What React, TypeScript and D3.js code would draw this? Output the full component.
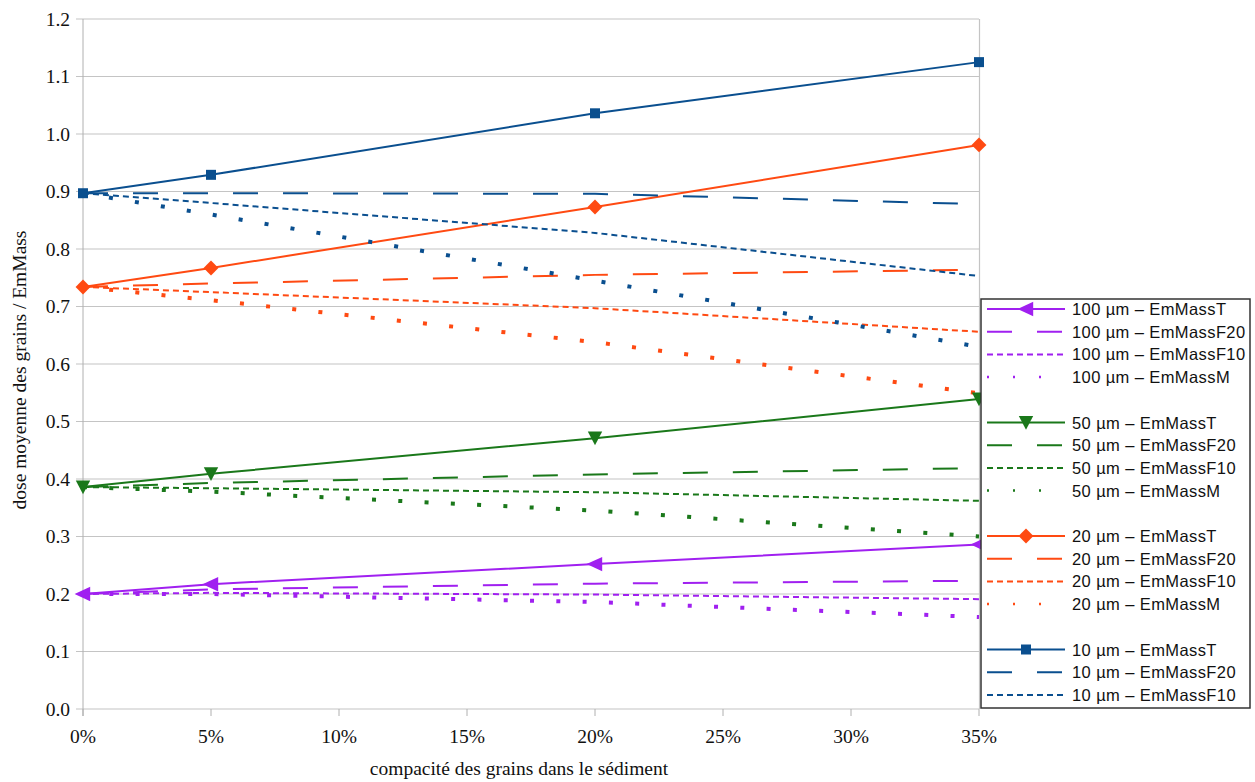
import React from "react";
import * as d3 from "d3";

// ---- data ----
const xValues = [0, 5, 20, 35];
const sizeLabels = ["100 µm", "50 µm", "20 µm", "10 µm"];
const variantLabels = ["EmMassT", "EmMassF20", "EmMassF10", "EmMassM"];
const yTicks = [0, 0.1, 0.2, 0.3, 0.4, 0.5, 0.6, 0.7, 0.8, 0.9, 1.0, 1.1, 1.2];
const xTicks = [0, 5, 10, 15, 20, 25, 30, 35];

const um100T = [0.2, 0.217, 0.252, 0.286];
const um100F20 = [0.2, 0.208, 0.218, 0.223];
const um100F10 = [0.2, 0.202, 0.199, 0.191];
const um100M = [0.2, 0.2, 0.186, 0.16];

const um50T = [0.386, 0.409, 0.471, 0.539];
const um50F20 = [0.386, 0.393, 0.408, 0.419];
const um50F10 = [0.386, 0.384, 0.377, 0.362];
const um50M = [0.386, 0.378, 0.345, 0.3];

const um20T = [0.734, 0.767, 0.873, 0.981];
const um20F20 = [0.734, 0.74, 0.755, 0.764];
const um20F10 = [0.734, 0.725, 0.697, 0.656];
const um20M = [0.734, 0.711, 0.638, 0.549];

const um10T = [0.897, 0.929, 1.036, 1.125];
const um10F20 = [0.897, 0.897, 0.896, 0.878];
const um10F10 = [0.897, 0.88, 0.828, 0.753];
const um10M = [0.897, 0.86, 0.745, 0.63];

const groups = [
  [um100T, um100F20, um100F10, um100M],
  [um50T, um50F20, um50F10, um50M],
  [um20T, um20F20, um20F10, um20M],
  [um10T, um10F20, um10F10, um10M],
];

// ---- styles ----
const colors = ["#a020f0", "#1a781a", "#ff4a12", "#0a4f8f"];
const markerShapes = ["left", "down", "diamond", "square"];
const markerSizes = [12, 12, 12, 10];
const dashes = [null, "25,25", "6,4", "4,22.3"];
const widths = [2, 2, 2, 4];
const legendDashes = [null, "25,25", "6,4", "2,24"];
const legendWidths = [2, 2, 2, 2.5];

const W = 1255;
const H = 782;
const x = d3.scaleLinear().domain([0, 35]).range([83, 979]);
const y = d3.scaleLinear().domain([0, 1.2]).range([709, 19]);

function markerPath(shape: string, s: number) {
  switch (shape) {
    case "left":
      return `M${-s * 0.7},0 L${s * 0.6},${-s * 0.6} L${s * 0.6},${s * 0.6} Z`;
    case "down":
      return `M${-s * 0.6},${-s * 0.55} L${s * 0.6},${-s * 0.55} L0,${s * 0.6} Z`;
    case "diamond":
      return `M0,${-s * 0.62} L${s * 0.62},0 L0,${s * 0.62} L${-s * 0.62},0 Z`;
    default:
      return `M${-s * 0.5},${-s * 0.5} H${s * 0.5} V${s * 0.5} H${-s * 0.5} Z`;
  }
}

const serif = "'Liberation Serif', 'Times New Roman', serif";
const sans = "'Liberation Sans', Arial, sans-serif";

export default function App() {
  const line = d3
    .line<number>()
    .x((_, i) => x(xValues[i]))
    .y((d) => y(d));

  const legendRows: { g: number; v: number; ly: number }[] = [];
  groups.forEach((_, g) => {
    variantLabels.forEach((_, v) => {
      if (g === 3 && v === 3) return;
      legendRows.push({ g, v, ly: 309 + g * 113.5 + v * 22.7 });
    });
  });

  return (
    <svg
      width={W}
      height={H}
      style={{ position: "absolute", left: 0, top: 0, background: "#fff" }}
    >
      {/* gridlines */}
      {yTicks.map((t) => (
        <g key={"gy" + t}>
          <line x1={76} x2={979} y1={y(t)} y2={y(t)} stroke="#c4c4c4" strokeWidth={1.2} />
          <text
            x={70}
            y={y(t)}
            dy="0.35em"
            textAnchor="end"
            fontFamily={serif}
            fontSize={19.5}
            fill="#111"
          >
            {t.toFixed(1)}
          </text>
        </g>
      ))}
      {xTicks.map((t) => (
        <g key={"gx" + t}>
          <line x1={x(t)} x2={x(t)} y1={709} y2={716} stroke="#b0b0b0" strokeWidth={1} />
          <text
            x={x(t)}
            y={743}
            textAnchor="middle"
            fontFamily={serif}
            fontSize={19.5}
            fill="#111"
          >
            {t}%
          </text>
        </g>
      ))}
      <line x1={83} x2={83} y1={19} y2={716} stroke="#b0b0b0" strokeWidth={1} />
      <line x1={979.5} x2={979.5} y1={19} y2={709} stroke="#c4c4c4" strokeWidth={1.2} />

      {/* series */}
      {groups.map((series, g) =>
        series.map((vals, v) => (
          <path
            key={`s${g}-${v}`}
            d={line(vals) || ""}
            fill="none"
            stroke={colors[g]}
            strokeWidth={widths[v]}
            strokeDasharray={dashes[v] || undefined}
          />
        ))
      )}
      {groups.map((series, g) =>
        series[0].map((val, i) => (
          <path
            key={`m${g}-${i}`}
            transform={`translate(${x(xValues[i])},${y(val)})`}
            d={markerPath(markerShapes[g], markerSizes[g])}
            fill={colors[g]}
          />
        ))
      )}

      {/* axis titles */}
      <text
        x={519}
        y={775}
        textAnchor="middle"
        fontFamily={serif}
        fontSize={19.5}
        fill="#111"
      >
        compacité des grains dans le sédiment
      </text>
      <text
        transform={`translate(26,370) rotate(-90)`}
        textAnchor="middle"
        fontFamily={serif}
        fontSize={19.5}
        fill="#111"
      >
        dose moyenne des grains / EmMass
      </text>

      {/* legend */}
      <rect x={981} y={299} width={269} height={409} fill="#fff" stroke="#333" strokeWidth={1.5} />
      {legendRows.map(({ g, v, ly }) => (
        <g key={`l${g}-${v}`}>
          <line
            x1={987}
            x2={1065}
            y1={ly}
            y2={ly}
            stroke={colors[g]}
            strokeWidth={legendWidths[v]}
            strokeDasharray={legendDashes[v] || undefined}
          />
          {v === 0 && (
            <path
              transform={`translate(1026,${ly})`}
              d={markerPath(markerShapes[g], markerSizes[g])}
              fill={colors[g]}
            />
          )}
          <text
            x={1072}
            y={ly + 6}
            fontFamily={sans}
            fontSize={16.5}
            letterSpacing={0.4}
            fill="#111"
          >
            {sizeLabels[g]} – {variantLabels[v]}
          </text>
        </g>
      ))}
    </svg>
  );
}
